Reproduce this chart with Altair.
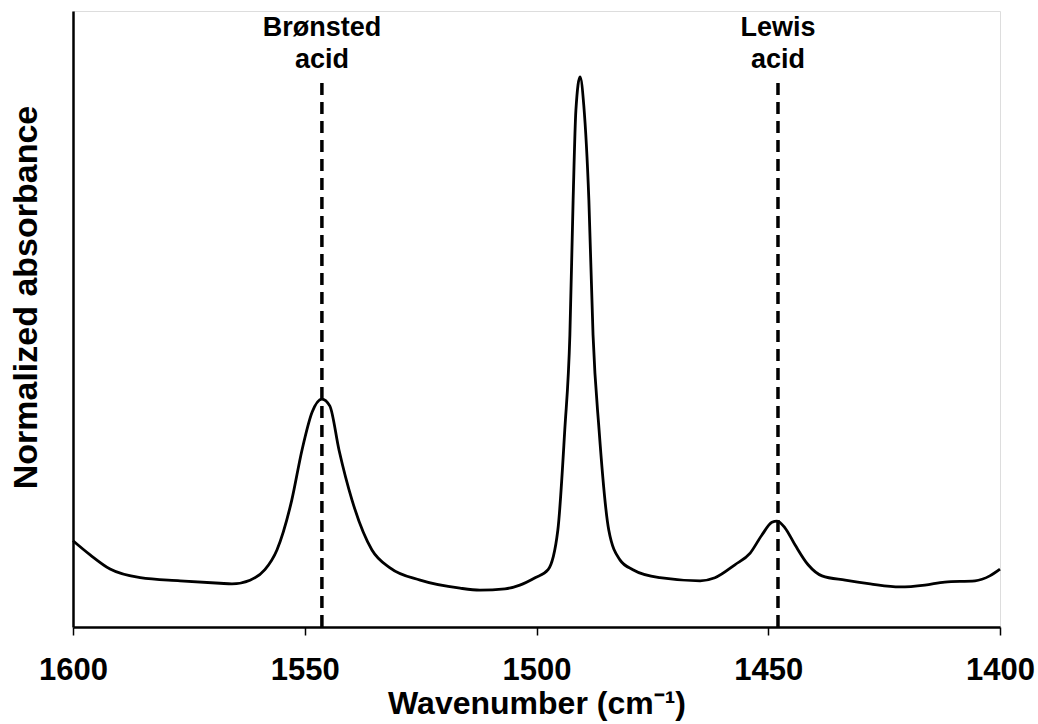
import altair as alt
import pandas as pd

# IR spectrum of adsorbed pyridine, 1600-1400 cm-1 region
wavenumber = [
    1600.0, 1596.3, 1592.0, 1585.5, 1576.9, 1568.3, 1565.7, 1561.8, 1558.6, 1556.0,
    1552.8, 1550.6, 1548.4, 1546.3, 1544.6, 1542.6, 1539.8, 1535.5, 1531.6, 1525.1,
    1516.5, 1512.2, 1506.8, 1503.6, 1500.3, 1497.5, 1495.4, 1493.9, 1492.8, 1492.1,
    1491.5, 1490.6, 1489.8, 1488.7, 1487.8, 1486.5, 1484.4, 1482.0, 1479.2, 1473.4,
    1464.7, 1461.5, 1457.2, 1453.9, 1451.4, 1449.2, 1448.1, 1446.4, 1444.2, 1441.4,
    1438.4, 1433.4, 1428.0, 1421.6, 1416.2, 1411.9, 1405.4, 1402.2, 1400.0,
]
absorbance = [
    0.140, 0.117, 0.094, 0.080, 0.075, 0.071, 0.070, 0.076, 0.093, 0.125,
    0.206, 0.287, 0.349, 0.370, 0.359, 0.287, 0.206, 0.125, 0.096, 0.076,
    0.063, 0.060, 0.062, 0.068, 0.080, 0.093, 0.157, 0.320, 0.474, 0.693,
    0.839, 0.893, 0.847, 0.693, 0.474, 0.320, 0.157, 0.109, 0.093, 0.080,
    0.075, 0.080, 0.101, 0.120, 0.149, 0.170, 0.172, 0.161, 0.133, 0.101,
    0.083, 0.076, 0.070, 0.065, 0.068, 0.073, 0.075, 0.083, 0.094,
]

# Reference band positions for the two acid-site types
band_labels = ["Brønsted\nacid", "Lewis\nacid"]
band_positions = [1546.3, 1447.9]
marker_top = 0.883

x_ticks = [1600, 1550, 1500, 1450, 1400]

spectrum = pd.DataFrame({"w": wavenumber, "a": absorbance})
bands = pd.DataFrame({"w": band_positions, "label": band_labels})

FONT = "Liberation Sans"

x_scale = alt.Scale(domain=[1600, 1400], nice=False, zero=False)
y_scale = alt.Scale(domain=[0, 1], nice=False, zero=True)

x_axis = alt.Axis(
    values=x_ticks, format="d", grid=False,
    domainColor="black", domainWidth=2.5,
    tickColor="black", tickWidth=1.5, tickSize=8,
    labelFont=FONT, labelFontSize=31, labelFontWeight="bold", labelColor="black",
    labelPadding=20, labelFlush=False,
    title="Wavenumber (cm⁻¹)", titleFont=FONT, titleFontSize=32,
    titleFontWeight="bold", titleColor="black", titlePadding=3,
)
y_axis = alt.Axis(
    labels=False, ticks=False, grid=False,
    domainColor="black", domainWidth=2.5,
    title="Normalized absorbance", titleFont=FONT, titleFontSize=34,
    titleFontWeight="bold", titleColor="black", titlePadding=30, titleY=286,
)

line = alt.Chart(spectrum).mark_line(
    color="black", strokeWidth=2.8, interpolate="monotone"
).encode(
    x=alt.X("w:Q", scale=x_scale, axis=x_axis),
    y=alt.Y("a:Q", scale=y_scale, axis=y_axis),
    order=alt.Order("w:Q", sort="descending"),
)

rules = alt.Chart(bands).mark_rule(
    color="black", strokeWidth=3.5, strokeDash=[12, 7]
).encode(
    x=alt.X("w:Q", scale=x_scale),
    y=alt.datum(marker_top),
    y2=alt.datum(0),
)

labels = alt.Chart(bands).mark_text(
    font=FONT, fontSize=27, fontWeight="bold", color="black",
    align="center", baseline="middle", lineBreak="\n", lineHeight=32,
).encode(
    x=alt.X("w:Q", scale=x_scale),
    y=alt.value(17),
    text="label:N",
)

chart = alt.layer(rules, line, labels).properties(
    width=927, height=616,
    autosize=alt.AutoSizeParams(type="none"),
    padding={"left": 73, "top": 11, "right": 38, "bottom": 97},
).configure_view(stroke=None).configure(background="white")

chart.save("out.html", embed_options={"renderer": "svg", "actions": False})
